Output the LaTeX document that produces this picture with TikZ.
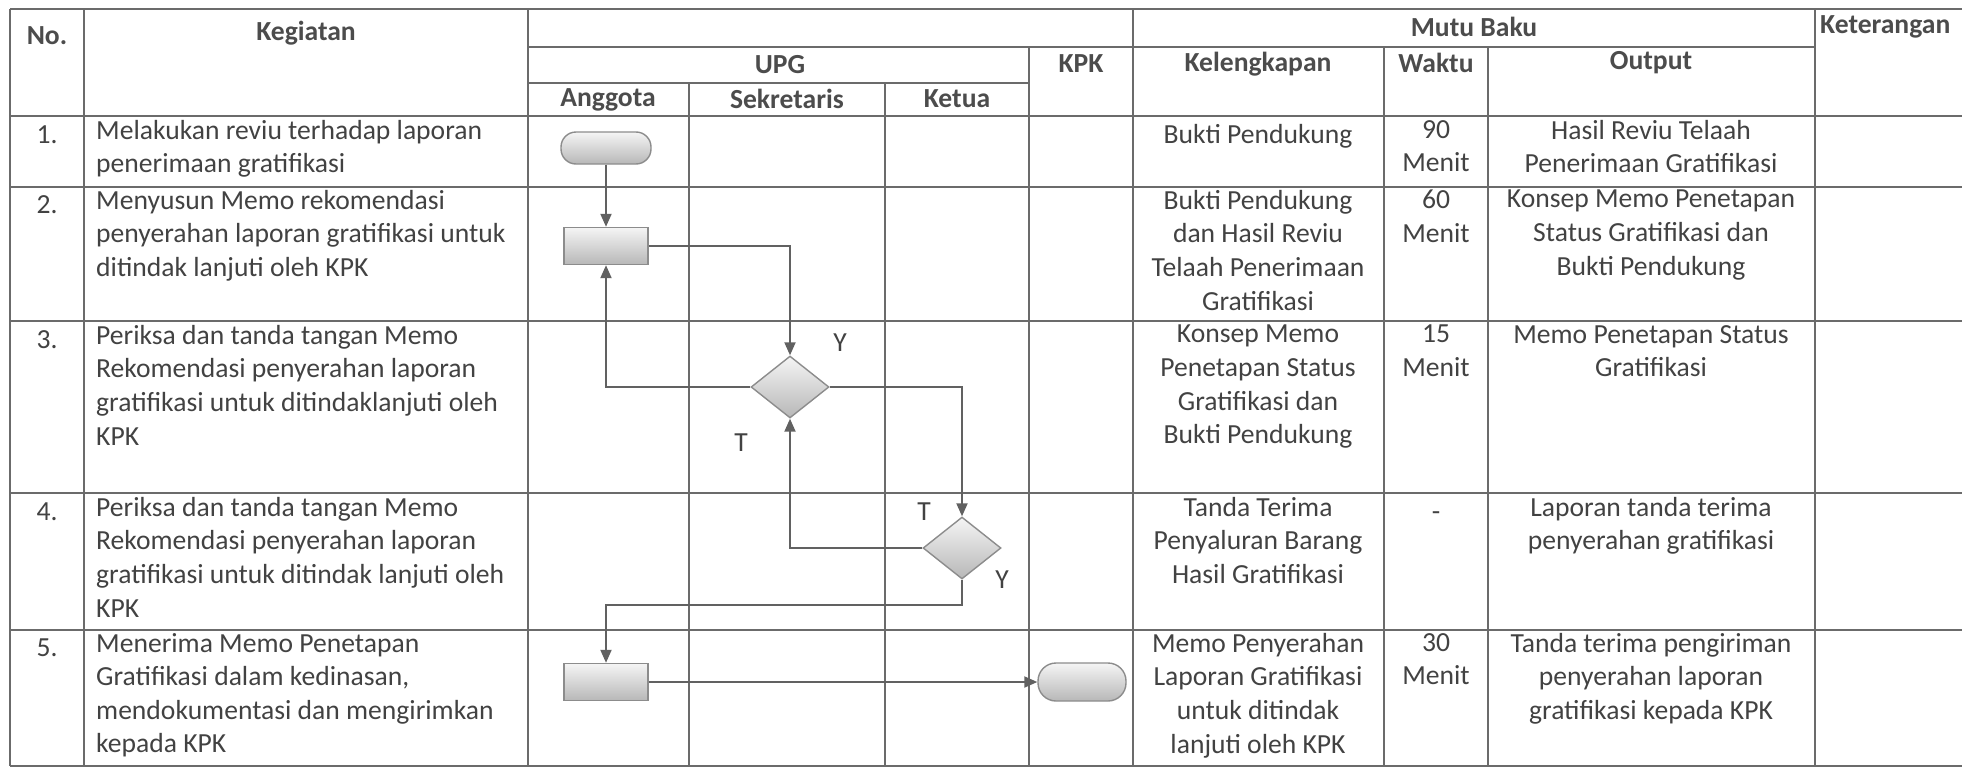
\documentclass[tikz,border=0pt]{standalone}
\usepackage{fontspec}
\setmainfont{Carlito}
\usetikzlibrary{arrows.meta,shapes.geometric}
\begin{document}
\begin{tikzpicture}[x=1pt,y=-1pt,
  grid/.style={draw=black!58,line width=1.5pt},
  txt/.style={inner sep=0pt,text=black!74,font=\fontsize{27.6}{33.6}\selectfont,execute at begin node=\strut},
  ctxt/.style={txt,align=center,anchor=north},
  ltxt/.style={txt,align=left,anchor=north west},
  hdr/.style={inner sep=0pt,text=black!70,font=\fontsize{27.6}{33.6}\selectfont\bfseries},
  lbl/.style={inner sep=0pt,text=black!74,font=\fontsize{27.6}{33.6}\selectfont},
  shp/.style={draw=black!45,line width=1.4pt,top color=black!4,bottom color=black!28,inner sep=0pt},
  term/.style={shp,rectangle,rounded corners=15pt,minimum width=90pt,minimum height=32pt},
  proc/.style={shp,rectangle,minimum width=84pt,minimum height=37pt},
  dec/.style={shp,diamond,minimum width=78pt,minimum height=62pt},
  arr/.style={draw=black!62,line width=2pt,-{Triangle[length=13pt,width=11pt]}}
]
\useasboundingbox (0,0) rectangle (1962,771);
% table grid
\draw[grid] (10,9) -- (1962,9);
\draw[grid] (528,47) -- (1815,47);
\draw[grid] (528,83) -- (1029,83);
\foreach \yy in {116,187,321,493,630,766} \draw[grid] (10,\yy) -- (1962,\yy);
\foreach \xx in {10,84,528,1133,1815} \draw[grid] (\xx,9) -- (\xx,766);
\foreach \xx in {689,885} \draw[grid] (\xx,83) -- (\xx,766);
\foreach \xx in {1029,1384,1488} \draw[grid] (\xx,47) -- (\xx,766);
% headers
\node[hdr] (hno) at (47,36) {No.};
\node[hdr] (hkeg) at (306,33) {Kegiatan};
\node[hdr] (hmutu) at (1474,27) {Mutu Baku};
\node[hdr,anchor=west] (hket) at (1820,27) {Keterangan};
\node[hdr] (hupg) at (780,65) {UPG};
\node[hdr] (hkpk) at (1081,64) {KPK};
\node[hdr] (hkel) at (1258,64) {Kelengkapan};
\node[hdr] (hwak) at (1436,63) {Waktu};
\node[hdr] (hout) at (1651,63) {Output};
\node[hdr] (hang) at (608,100) {Anggota};
\node[hdr] (hsek) at (787,99) {Sekretaris};
\node[hdr] (hktu) at (957,99) {Ketua};
% row 1
\node[ctxt] (n1) at (47,120) {1.};
\node[ltxt] (k1) at (96,120) {Melakukan reviu terhadap laporan\\penerimaan gratifikasi};
\node[ctxt] (l1) at (1258,120) {Bukti Pendukung};
\node[ctxt] (w1) at (1436,120) {90\\Menit};
\node[ctxt] (o1) at (1651,120) {Hasil Reviu Telaah\\Penerimaan Gratifikasi};
% row 2
\node[ctxt] (n2) at (47,190) {2.};
\node[ltxt] (k2) at (96,190) {Menyusun Memo rekomendasi\\penyerahan laporan gratifikasi untuk\\ditindak lanjuti oleh KPK};
\node[ctxt] (l2) at (1258,190) {Bukti Pendukung\\dan Hasil Reviu\\Telaah Penerimaan\\Gratifikasi};
\node[ctxt] (w2) at (1436,190) {60\\Menit};
\node[ctxt] (o2) at (1651,190) {Konsep Memo Penetapan\\Status Gratifikasi dan\\Bukti Pendukung};
% row 3
\node[ctxt] (n3) at (47,325) {3.};
\node[ltxt] (k3) at (96,325) {Periksa dan tanda tangan Memo\\Rekomendasi penyerahan laporan\\gratifikasi untuk ditindaklanjuti oleh\\KPK};
\node[ctxt] (l3) at (1258,325) {Konsep Memo\\Penetapan Status\\Gratifikasi dan\\Bukti Pendukung};
\node[ctxt] (w3) at (1436,325) {15\\Menit};
\node[ctxt] (o3) at (1651,325) {Memo Penetapan Status\\Gratifikasi};
% row 4
\node[ctxt] (n4) at (47,497) {4.};
\node[ltxt] (k4) at (96,497) {Periksa dan tanda tangan Memo\\Rekomendasi penyerahan laporan\\gratifikasi untuk ditindak lanjuti oleh\\KPK};
\node[ctxt] (l4) at (1258,497) {Tanda Terima\\Penyaluran Barang\\Hasil Gratifikasi};
\node[ctxt] (w4) at (1436,497) {-};
\node[ctxt] (o4) at (1651,497) {Laporan tanda terima\\penyerahan gratifikasi};
% row 5
\node[ctxt] (n5) at (47,633) {5.};
\node[ltxt] (k5) at (96,633) {Menerima Memo Penetapan\\Gratifikasi dalam kedinasan,\\mendokumentasi dan mengirimkan\\kepada KPK};
\node[ctxt] (l5) at (1258,633) {Memo Penyerahan\\Laporan Gratifikasi\\untuk ditindak\\lanjuti oleh KPK};
\node[ctxt] (w5) at (1436,633) {30\\Menit};
\node[ctxt] (o5) at (1651,633) {Tanda terima pengiriman\\penyerahan laporan\\gratifikasi kepada KPK};
% flowchart
\node[term] (t1) at (606,148) {};
\node[proc] (r2) at (606,246) {};
\node[dec] (d3) at (790,387) {};
\node[dec] (d4) at (962,548) {};
\node[proc] (r5) at (606,682) {};
\node[term,minimum width=88pt,minimum height=38pt,rounded corners=18pt] (t5) at (1082,682) {};
\coordinate (k) at (962,605);
\draw[arr] (t1.south) -- (r2.north);
\draw[arr] (r2.east) -| (d3.north);
\draw[arr] (d3.west) -| (r2.south);
\draw[arr] (d3.east) -| (d4.north);
\draw[arr] (d4.west) -| (d3.south);
\draw[arr] (d4.south) -- (k) -| (r5.north);
\draw[arr] (r5.east) -- (t5.west);
\node[lbl] (y1) at (840,343) {Y};
\node[lbl] (tt1) at (741,443) {T};
\node[lbl] (tt2) at (924,512) {T};
\node[lbl] (y2) at (1002,580) {Y};
\end{tikzpicture}
\end{document}
